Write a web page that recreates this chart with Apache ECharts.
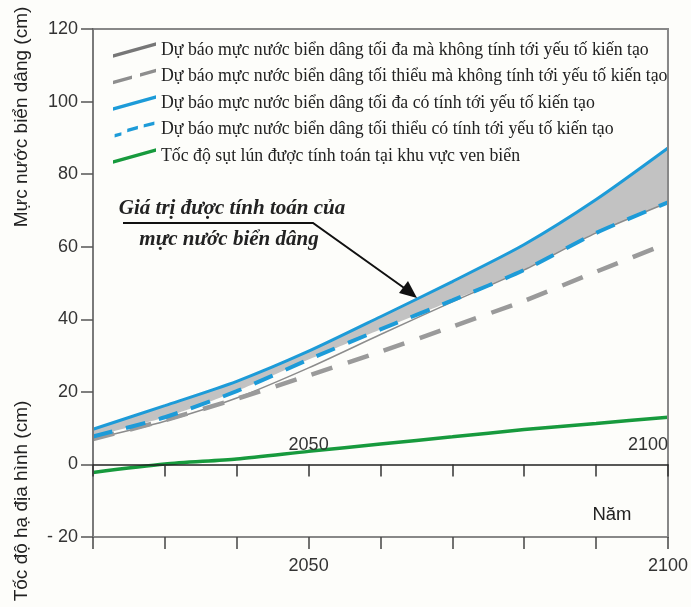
<!DOCTYPE html>
<html>
<head>
<meta charset="utf-8">
<script src="https://cdn.jsdelivr.net/npm/echarts@6/dist/echarts.min.js"></script>
<style>
html,body{margin:0;padding:0;background:#fdfdfa;}
#c{width:691px;height:607px;}
</style>
</head>
<body>
<div id="c"></div>
<script>
// ---- data ----
const years = [2020, 2030, 2040, 2050, 2060, 2070, 2080, 2090, 2100];
const maxNoTectonic = [7.0, 11.9, 18.3, 26.6, 35.8, 44.8, 53.6, 63.8, 72.2];
const minNoTectonic = [7.0, 12.2, 18.1, 24.5, 31.1, 38.0, 45.1, 53.1, 61.0];
const maxTectonic = [9.7, 16.2, 22.9, 31.2, 40.7, 50.4, 60.6, 73.0, 87.2];
const minTectonic = [7.7, 13.0, 20.2, 28.9, 37.2, 45.2, 53.6, 63.8, 72.2];
const subsidence = [-2.2, 0.1, 1.5, 3.6, 5.6, 7.6, 9.6, 11.3, 13.0];

const seriesNames = [
  'Dự báo mực nước biển dâng tối đa mà không tính tới yếu tố kiến tạo',
  'Dự báo mực nước biển dâng tối thiểu mà không tính tới yếu tố kiến tạo',
  'Dự báo mực nước biển dâng tối đa có tính tới yếu tố kiến tạo',
  'Dự báo mực nước biển dâng tối thiểu có tính tới yếu tố kiến tạo',
  'Tốc độ sụt lún được tính toán tại khu vực ven biển'
];
const xTickLabels = [2050, 2100];
const innerTickLabels = [2050, 2100];
const yMin = -20, yMax = 120, yStep = 20;
const yTickValues = [-20, 0, 20, 40, 60, 80, 100, 120];
const yTickTexts = ['- 20', '0', '20', '40', '60', '80', '100', '120'];
const yTitleTop = 'Mực nước biển dâng (cm)';
const yTitleBottom = 'Tốc độ hạ địa hình (cm)';
const xTitle = 'Năm';
const noteLine1 = 'Giá trị được tính toán của';
const noteLine2 = 'mực nước biển dâng';

// ---- build ----
const pairs = arr => years.map((y, i) => [y, arr[i]]);

const SANS = '"Liberation Sans", Arial, sans-serif';
const SERIF = '"Liberation Serif", "Times New Roman", serif';
const BLUE = '#1d9bd8';
const BG = '#fdfdfa';
const SM = 0.25;
const W = 691, H = 607, GT = 29, GB = 70;
const gridH = H - GT - GB;
const zeroOffset = -gridH * (yMax - 0) / (yMax - yMin); // move top axis down to y = 0

const chart = echarts.init(document.getElementById('c'), null, {renderer: 'canvas'});

const iconSolid = 'path://M0,12.5L43,0.5L43,4L0,16Z';
const iconDash = 'path://M0,12.5L19,7.2L19,10.7L0,16Z M27,5L43,0.5L43,4L27,8.5Z';
const iconShort = 'path://M0,13L7,11L7,14.5L0,16.5Z M13,7.5L24,4.4L24,7.9L13,11Z M30,2.8L41,0L41,3.5L30,6.3Z';

chart.setOption({
  animation: false,
  backgroundColor: BG,
  grid: {left: 93, right: 22, top: GT, bottom: GB, show: true, borderColor: '#888', borderWidth: 2, backgroundColor: 'transparent'},
  legend: {
    orient: 'vertical', left: 113, top: 41, itemWidth: 43, itemHeight: 16, itemGap: 8.5, padding: 0,
    selectedMode: false,
    itemStyle: {borderWidth: 0},
    textStyle: {fontFamily: SERIF, fontSize: 17.8, lineHeight: 16, color: '#222'},
    data: [
      {name: seriesNames[0], icon: iconSolid},
      {name: seriesNames[1], icon: iconDash},
      {name: seriesNames[2], icon: iconSolid},
      {name: seriesNames[3], icon: iconShort},
      {name: seriesNames[4], icon: iconSolid}
    ]
  },
  xAxis: [
    {
      type: 'value', min: 2020, max: 2100, interval: 10, position: 'bottom', z: 6,
      axisLine: {onZero: false, lineStyle: {color: '#888', width: 2}},
      axisTick: {length: 12, lineStyle: {color: '#444', width: 1.5}},
      splitLine: {show: false},
      axisLabel: {margin: 20, fontFamily: SANS, fontSize: 18, color: '#333',
        formatter: v => xTickLabels.indexOf(v) >= 0 ? String(v) : ''}
    },
    {
      type: 'value', min: 2020, max: 2100, interval: 10, position: 'top', offset: zeroOffset, z: 6,
      axisLine: {onZero: false, lineStyle: {color: '#222', width: 1.5}},
      axisTick: {inside: true, length: 12, lineStyle: {color: '#333', width: 1.5}},
      splitLine: {show: false},
      axisLabel: {inside: false, margin: 10, fontFamily: SANS, fontSize: 18, color: '#333', alignMaxLabel: 'right',
        formatter: v => innerTickLabels.indexOf(v) >= 0 ? String(v) : ''}
    }
  ],
  yAxis: [
    {
      type: 'value', min: yMin, max: yMax, interval: yStep, z: 6,
      axisLine: {show: true, onZero: false, lineStyle: {color: '#7a7a7a', width: 2}},
      axisTick: {show: true, length: 12, lineStyle: {color: '#555', width: 1.5}},
      splitLine: {show: false},
      axisLabel: {margin: 15, fontFamily: SANS, fontSize: 18, color: '#333',
        formatter: v => { const i = yTickValues.indexOf(v); return i >= 0 ? yTickTexts[i] : ''; }}
    },
    {
      type: 'value', min: yMin, max: yMax, interval: yStep, position: 'right', z: 6,
      axisLine: {show: true, onZero: false, lineStyle: {color: '#888', width: 2}},
      axisTick: {show: false}, axisLabel: {show: false}, splitLine: {show: false}
    }
  ],
  series: [
    {name: 'bandTop', type: 'line', data: pairs(maxTectonic), symbol: 'none', smooth: SM,
      lineStyle: {width: 0, opacity: 0}, areaStyle: {color: '#c2c2c2', opacity: 1, origin: 'start'}, silent: true, z: 1},
    {name: 'bandCover', type: 'line', data: pairs(minTectonic), symbol: 'none', smooth: SM,
      lineStyle: {width: 0, opacity: 0}, areaStyle: {color: BG, opacity: 1, origin: 'start'}, silent: true, z: 1},
    {name: seriesNames[0], type: 'line', data: pairs(maxNoTectonic), symbol: 'none', smooth: SM,
      color: '#777', lineStyle: {color: '#8c8c8c', width: 1.5}, z: 3},
    {name: seriesNames[1], type: 'line', data: pairs(minNoTectonic), symbol: 'none', smooth: SM,
      color: '#8e8e8e', lineStyle: {color: '#9a9a9a', width: 4.5, type: [22, 16]}, z: 3},
    {name: seriesNames[3], type: 'line', data: pairs(minTectonic), symbol: 'none', smooth: SM,
      color: BLUE, lineStyle: {color: BLUE, width: 4, type: [20, 14]}, z: 4},
    {name: seriesNames[2], type: 'line', data: pairs(maxTectonic), symbol: 'none', smooth: SM,
      color: BLUE, lineStyle: {color: BLUE, width: 3}, z: 5},
    {name: seriesNames[4], type: 'line', data: pairs(subsidence), symbol: 'none', smooth: SM,
      color: '#179a3d', lineStyle: {color: '#179a3d', width: 3.5}, z: 5}
  ],
  graphic: [
    {type: 'text', z: 10, x: 22, y: 117, rotation: Math.PI / 2,
      style: {text: yTitleTop, fontFamily: SANS, fontSize: 19, fill: '#222', textAlign: 'center', textVerticalAlign: 'middle'}},
    {type: 'text', z: 10, x: 22, y: 501, rotation: Math.PI / 2,
      style: {text: yTitleBottom, fontFamily: SANS, fontSize: 19, fill: '#222', textAlign: 'center', textVerticalAlign: 'middle'}},
    {type: 'text', z: 10, x: 612, y: 515,
      style: {text: xTitle, fontFamily: SANS, fontSize: 18.5, fill: '#222', textAlign: 'center', textVerticalAlign: 'middle'}},
    {type: 'text', z: 10, x: 232, y: 209,
      style: {text: noteLine1, fontFamily: SERIF, fontSize: 21, fontWeight: 'bold', fontStyle: 'italic', fill: '#222', textAlign: 'center', textVerticalAlign: 'middle'}},
    {type: 'text', z: 10, x: 229, y: 240,
      style: {text: noteLine2, fontFamily: SERIF, fontSize: 21, fontWeight: 'bold', fontStyle: 'italic', fill: '#222', textAlign: 'center', textVerticalAlign: 'middle'}},
    {type: 'polyline', z: 10, shape: {points: [[123, 223], [313, 223], [407, 290]]},
      style: {stroke: '#111', lineWidth: 2, fill: null}},
    {type: 'polygon', z: 10, shape: {points: [[417, 298], [399, 293], [408, 281]]},
      style: {fill: '#111'}}
  ]
});
</script>
</body>
</html>
